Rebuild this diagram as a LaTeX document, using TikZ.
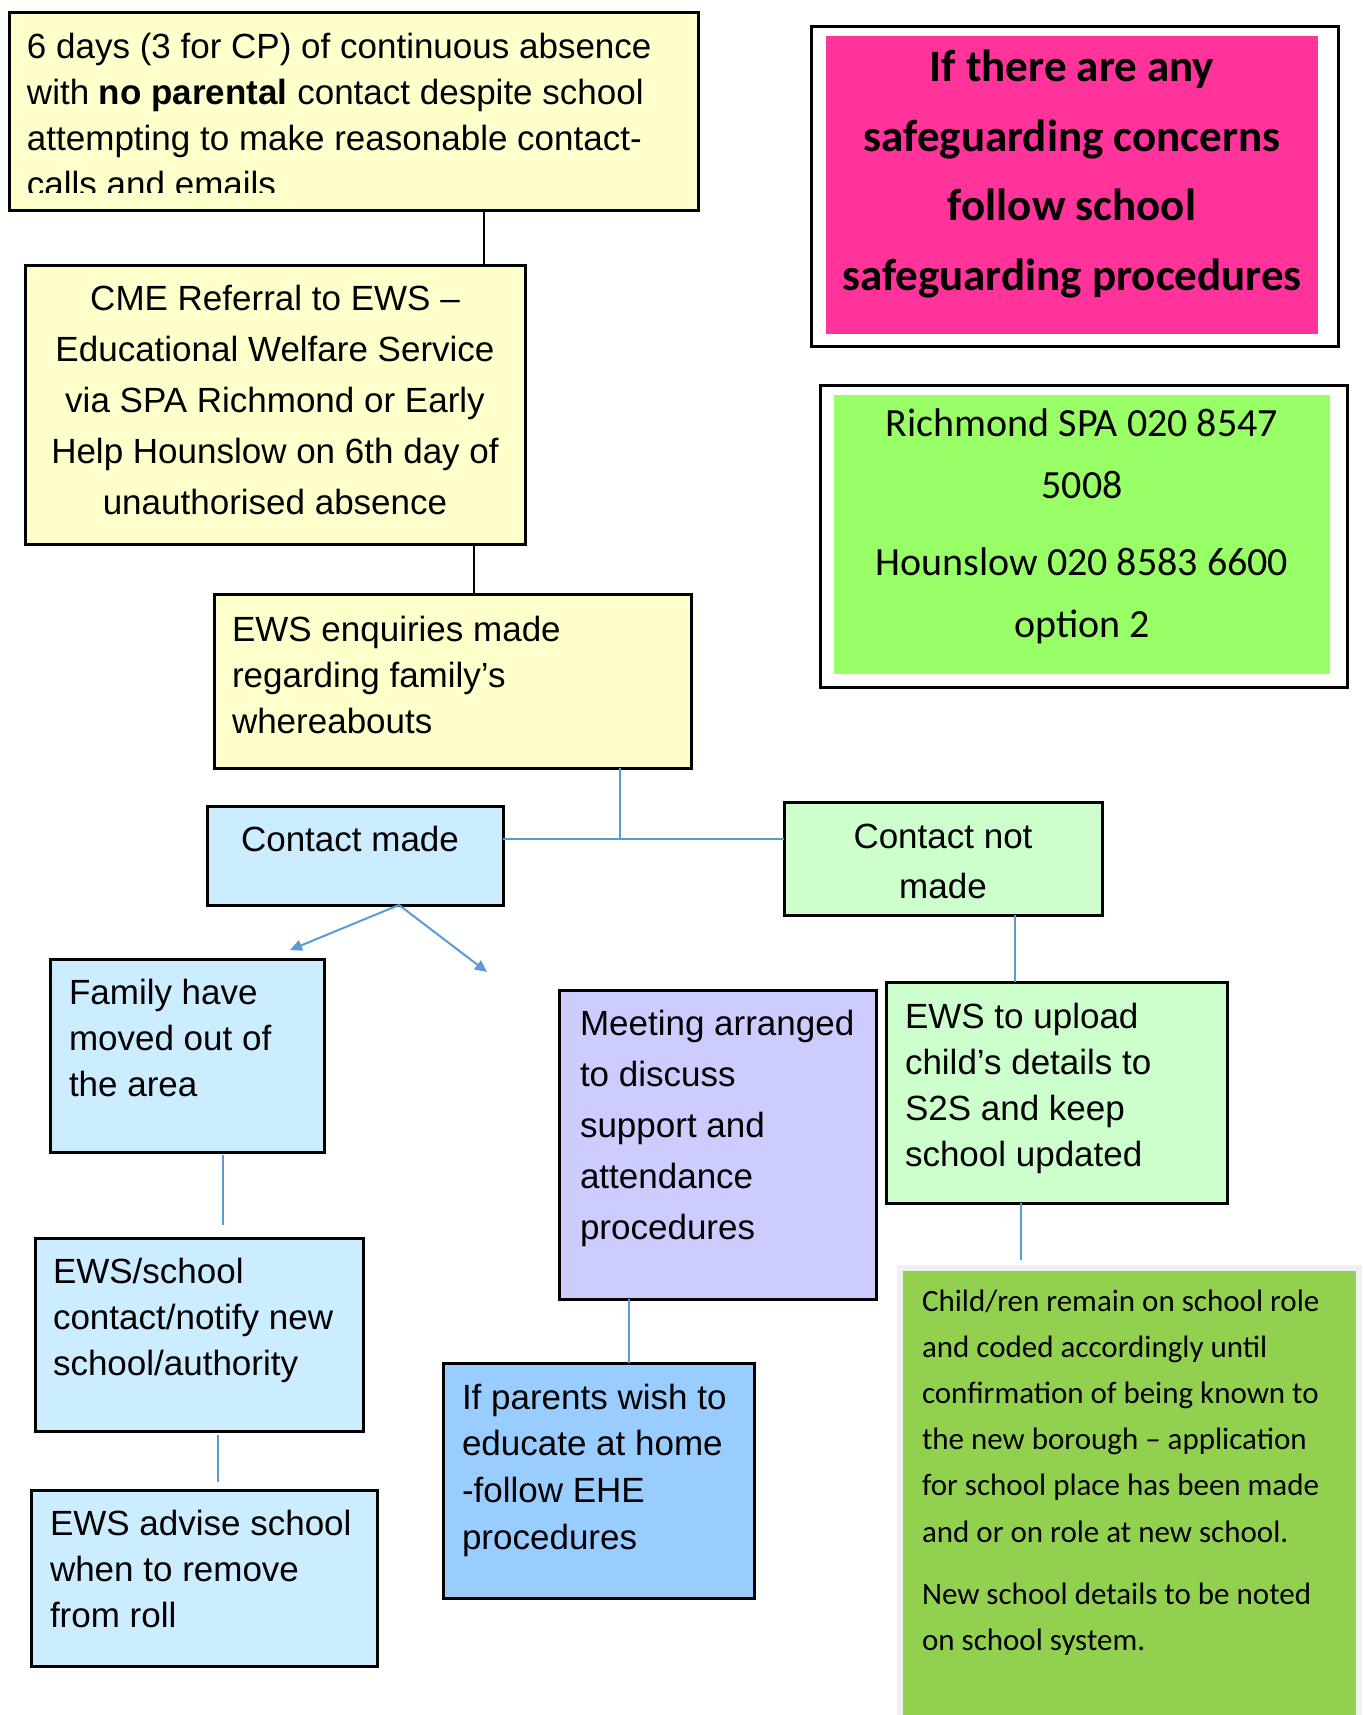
\documentclass[tikz,border=0pt]{standalone}
\usepackage{fontspec}
\setmainfont{Liberation Sans}
\newfontfamily\calib{Carlito}
\usetikzlibrary{arrows.meta}
\definecolor{ylw}{HTML}{FFFFCC}
\definecolor{lblue}{HTML}{CCECFF}
\definecolor{lgreen}{HTML}{CCFFCC}
\definecolor{lav}{HTML}{CCCCFF}
\definecolor{mblue}{HTML}{99CCFF}
\definecolor{pinkc}{HTML}{FF3399}
\definecolor{limec}{HTML}{99FF66}
\definecolor{leaf}{HTML}{92D050}
\definecolor{conn}{HTML}{5B9BD5}
\definecolor{greyb}{HTML}{F0F0F0}
\tikzset{
 box/.style={draw=black, line width=3pt, rectangle, inner sep=0pt, outer sep=0pt, anchor=north west},
 plain/.style={rectangle, inner sep=0pt, outer sep=0pt, anchor=north west},
 txt/.style={inner sep=0pt, outer sep=0pt, anchor=base west},
 ctxt/.style={inner sep=0pt, outer sep=0pt, anchor=base},
 link/.style={draw=black, line width=2.5pt},
 blink/.style={draw=conn, line width=2.5pt},
 arr/.style={draw=conn, line width=2pt, -{Triangle[length=12pt,width=11pt]}},
}
\begin{document}
\begin{tikzpicture}[x=1pt,y=-1pt]
\useasboundingbox[fill=white] (0,0) rectangle (1362,1715);

% top left yellow box
\node[box, fill=ylw, minimum width=689pt, minimum height=197pt] (b1) at (9,13) {};
\begin{scope}
\clip (9,13) rectangle (698,193);
\node[txt] (b1t) at (27,59) {\parbox[t]{700pt}{\raggedright\fontsize{35}{46}\selectfont
6 days (3 for CP) of continuous absence\\
with \textbf{no parental} contact despite school\\
attempting to make reasonable contact-\\
calls and emails}};
\end{scope}

% CME referral
\node[box, fill=ylw, minimum width=500pt, minimum height=279pt] (cme) at (25,265) {};
\node[ctxt] (cmet) at (275,310) {\parbox[t]{520pt}{\centering\fontsize{35}{51}\selectfont
CME Referral to EWS –\\
Educational Welfare Service\\
via SPA Richmond or Early\\
Help Hounslow on 6th day of\\
unauthorised absence}};

% EWS enquiries
\node[box, fill=ylw, minimum width=477pt, minimum height=174pt] (enq) at (214,594) {};
\node[txt] (enqt) at (232,641) {\parbox[t]{450pt}{\raggedright\fontsize{35}{46}\selectfont
EWS enquiries made\\
regarding family’s\\
whereabouts}};

% Contact made / not made
\node[box, fill=lblue, minimum width=296pt, minimum height=99pt] (cm) at (207,806) {};
\node[ctxt] (cmt) at (350,851) {\fontsize{35}{46}\selectfont Contact made};
\node[box, fill=lgreen, minimum width=318pt, minimum height=113pt] (cnm) at (784,802) {};
\node[ctxt] (cnmt) at (943,848) {\parbox[t]{300pt}{\centering\fontsize{35}{50}\selectfont
Contact not\\ made}};

% left column
\node[box, fill=lblue, minimum width=274pt, minimum height=193pt] (fam) at (50,959) {};
\node[txt] (famt) at (69,1004) {\parbox[t]{260pt}{\raggedright\fontsize{35}{46}\selectfont
Family have\\ moved out of\\ the area}};
\node[box, fill=lblue, minimum width=328pt, minimum height=193pt] (ewss) at (35,1238) {};
\node[txt] (ewsst) at (53,1283) {\parbox[t]{320pt}{\raggedright\fontsize{35}{46}\selectfont
EWS/school\\ contact/notify new\\ school/authority}};
\node[box, fill=lblue, minimum width=346pt, minimum height=176pt] (adv) at (31,1490) {};
\node[txt] (advt) at (50,1535) {\parbox[t]{340pt}{\raggedright\fontsize{35}{46}\selectfont
EWS advise school\\ when to remove\\ from roll}};

% middle column
\node[box, fill=lav, minimum width=317pt, minimum height=309pt] (meet) at (559,990) {};
\node[txt] (meett) at (580,1035) {\parbox[t]{300pt}{\raggedright\fontsize{35}{51}\selectfont
Meeting arranged\\ to discuss\\ support and\\ attendance\\ procedures}};
\node[box, fill=mblue, minimum width=311pt, minimum height=235pt] (ehe) at (443,1363) {};
\node[txt] (ehet) at (462,1409) {\parbox[t]{300pt}{\raggedright\fontsize{35}{46.7}\selectfont
If parents wish to\\ educate at home\\ -follow EHE\\ procedures}};

% right column
\node[box, fill=lgreen, minimum width=341pt, minimum height=221pt] (upl) at (886,982) {};
\node[txt] (uplt) at (905,1028) {\parbox[t]{330pt}{\raggedright\fontsize{35}{46.3}\selectfont
EWS to upload\\ child’s details to\\ S2S and keep\\ school updated}};
\node[plain, fill=greyb, minimum width=465pt, minimum height=450pt] (chb) at (897,1265) {};
\node[plain, fill=leaf, minimum width=453pt, minimum height=444pt] (ch) at (903,1271) {};
\node[txt] (cht) at (922,1311) {\parbox[t]{440pt}{\raggedright\calib\fontsize{31}{46.2}\selectfont
Child/ren remain on school role\\
and coded accordingly until\\
confirmation of being known to\\
the new borough – application\\
for school place has been made\\
and or on role at new school.\\[16pt]
New school details to be noted\\
on school system.}};

% pink box
\node[box, fill=white, minimum width=527pt, minimum height=319pt] (pko) at (811,27) {};
\node[plain, fill=pinkc, minimum width=492pt, minimum height=298pt] (pk) at (826,36) {};
\node[ctxt] (pkt) at (1072,82) {\parbox[t]{520pt}{\centering\calib\bfseries\fontsize{45}{69.5}\selectfont
If there are any\\ safeguarding concerns\\ follow school\\ safeguarding procedures}};

% green contact box
\node[box, fill=white, minimum width=527pt, minimum height=302pt] (gro) at (820,385) {};
\node[plain, fill=limec, minimum width=496pt, minimum height=279pt] (gr) at (834,395) {};
\node[ctxt] (grt) at (1082,436) {\parbox[t]{500pt}{\centering\calib\fontsize{40}{62}\selectfont
Richmond SPA 020 8547\\ 5008\\[15pt] Hounslow 020 8583 6600\\ option 2}};

% connectors
\coordinate (k1) at (484,0);
\coordinate (k2) at (474,0);
\coordinate (j) at (620,839);
\coordinate (s) at (399,908);
\coordinate (a1) at (290,950);
\coordinate (a2) at (487,972);
\coordinate (k4) at (223,0);
\coordinate (k5) at (218,0);
\coordinate (k6) at (629,0);
\coordinate (k7) at (1015,0);
\coordinate (k8) at (1021,0);

\draw[link] (b1.south -| k1) -- (cme.north -| k1);
\draw[link] (cme.south -| k2) -- (enq.north -| k2);
\draw[blink] (enq.south -| j) -- (j);
\draw[blink] (cm.east |- j) -- (cnm.west |- j);
\draw[arr] (cm.south -| s) -- (a1);
\draw[arr] (cm.south -| s) -- (a2);
\draw[blink, shorten <=3pt, shorten >=13pt] (fam.south -| k4) -- (ewss.north -| k4);
\draw[blink, shorten <=4pt, shorten >=8pt] (ewss.south -| k5) -- (adv.north -| k5);
\draw[blink] (meet.south -| k6) -- (ehe.north -| k6);
\draw[blink] (cnm.south -| k7) -- (upl.north -| k7);
\draw[blink, shorten >=5pt] (upl.south -| k8) -- (chb.north -| k8);
\end{tikzpicture}
\end{document}
